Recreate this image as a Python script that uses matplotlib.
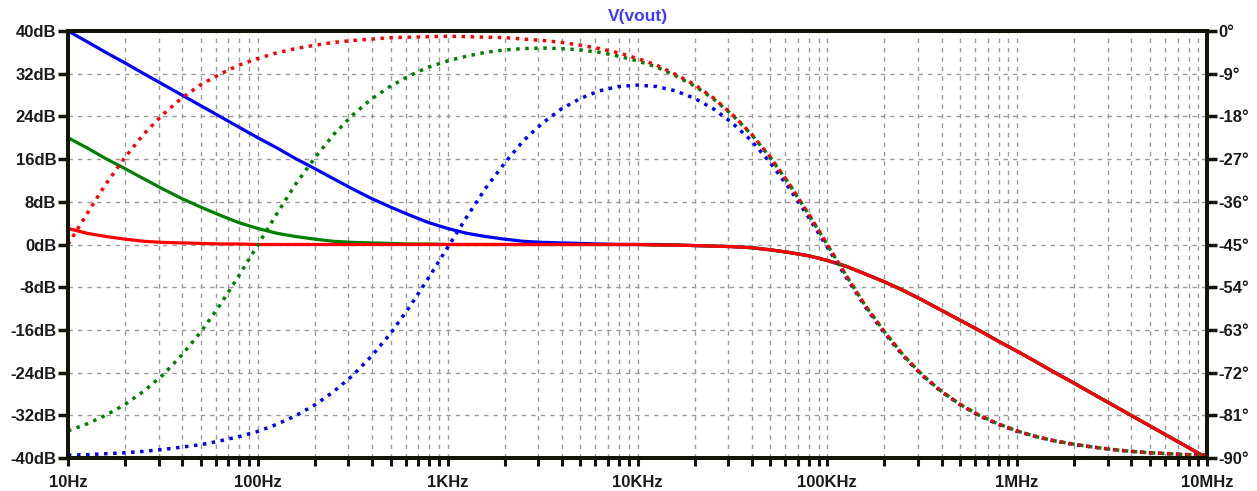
#!/usr/bin/env python
"""Bode plot of V(vout) for three corner frequencies (LTspice style)."""

import matplotlib
matplotlib.use("Agg")
import matplotlib.pyplot as plt
from matplotlib.ticker import FixedLocator, NullFormatter

# Frequency points (Hz), 10 per decade
freq = [10, 12.6, 15.8, 20, 25.1, 31.6, 39.8, 50.1, 63.1, 79.4,
        100, 126, 158, 200, 251, 316, 398, 501, 631, 794,
        1e3, 1.26e3, 1.58e3, 2e3, 2.51e3, 3.16e3, 3.98e3, 5.01e3, 6.31e3, 7.94e3,
        1e4, 1.26e4, 1.58e4, 2e4, 2.51e4, 3.16e4, 3.98e4, 5.01e4, 6.31e4, 7.94e4,
        1e5, 1.26e5, 1.58e5, 2e5, 2.51e5, 3.16e5, 3.98e5, 5.01e5, 6.31e5, 7.94e5,
        1e6, 1.26e6, 1.58e6, 2e6, 2.51e6, 3.16e6, 3.98e6, 5.01e6, 6.31e6, 7.94e6,
        1e7]

# Magnitude (dB), solid traces
mag_blue = [40.0, 38.0, 36.0, 34.0, 32.0, 30.0, 28.0, 26.0, 24.0, 22.0,
            20.0, 18.1, 16.1, 14.2, 12.3, 10.4, 8.6, 7.0, 5.5, 4.1,
            3.0, 2.1, 1.5, 1.0, 0.6, 0.4, 0.3, 0.2, 0.1, 0.0,
            0.0, 0.0, -0.1, -0.2, -0.3, -0.4, -0.6, -1.0, -1.5, -2.1,
            -3.0, -4.1, -5.5, -7.0, -8.6, -10.4, -12.3, -14.2, -16.1, -18.1,
            -20.0, -22.0, -24.0, -26.0, -28.0, -30.0, -32.0, -34.0, -36.0, -38.0,
            -40.0]
mag_green = [20.0, 18.1, 16.1, 14.2, 12.3, 10.4, 8.6, 7.0, 5.5, 4.1,
             3.0, 2.1, 1.5, 1.0, 0.6, 0.4, 0.3, 0.2, 0.1, 0.1,
             0.0, 0.0, 0.0, 0.0, 0.0, 0.0, 0.0, 0.0, 0.0, 0.0,
             0.0, -0.1, -0.1, -0.2, -0.3, -0.4, -0.6, -1.0, -1.5, -2.1,
             -3.0, -4.1, -5.5, -7.0, -8.6, -10.4, -12.3, -14.2, -16.1, -18.1,
             -20.0, -22.0, -24.0, -26.0, -28.0, -30.0, -32.0, -34.0, -36.0, -38.0,
             -40.0]
mag_red = [3.0, 2.1, 1.5, 1.0, 0.6, 0.4, 0.3, 0.2, 0.1, 0.1,
           0.0, 0.0, 0.0, 0.0, 0.0, 0.0, 0.0, 0.0, 0.0, 0.0,
           0.0, 0.0, 0.0, 0.0, 0.0, 0.0, 0.0, 0.0, 0.0, 0.0,
           0.0, -0.1, -0.1, -0.2, -0.3, -0.4, -0.6, -1.0, -1.5, -2.1,
           -3.0, -4.1, -5.5, -7.0, -8.6, -10.4, -12.3, -14.2, -16.1, -18.1,
           -20.0, -22.0, -24.0, -26.0, -28.0, -30.0, -32.0, -34.0, -36.0, -38.0,
           -40.0]

# Phase (degrees), dotted traces
ph_blue = [-89.4, -89.3, -89.1, -88.9, -88.6, -88.2, -87.7, -87.2, -86.4, -85.5,
           -84.4, -82.9, -81.1, -78.8, -76.0, -72.6, -68.5, -63.7, -58.1, -52.0,
           -45.6, -39.2, -33.2, -27.8, -23.1, -19.4, -16.4, -14.2, -12.6, -11.7,
           -11.4, -11.7, -12.6, -14.2, -16.4, -19.4, -23.1, -27.8, -33.2, -39.2,
           -45.6, -52.0, -58.1, -63.7, -68.5, -72.6, -76.0, -78.8, -81.1, -82.9,
           -84.4, -85.5, -86.4, -87.2, -87.7, -88.2, -88.6, -88.9, -89.1, -89.3,
           -89.4]
ph_green = [-84.3, -82.8, -81.0, -78.7, -75.9, -72.5, -68.3, -63.4, -57.8, -51.6,
            -45.1, -38.5, -32.3, -26.7, -21.8, -17.7, -14.3, -11.6, -9.4, -7.6,
            -6.3, -5.3, -4.5, -4.0, -3.7, -3.6, -3.7, -4.0, -4.5, -5.3,
            -6.3, -7.6, -9.4, -11.6, -14.3, -17.7, -21.8, -26.7, -32.3, -38.5,
            -45.1, -51.6, -57.8, -63.4, -68.3, -72.5, -75.9, -78.7, -81.0, -82.8,
            -84.3, -85.5, -86.4, -87.1, -87.7, -88.2, -88.6, -88.9, -89.1, -89.3,
            -89.4]
ph_red = [-45.0, -38.5, -32.3, -26.6, -21.7, -17.6, -14.1, -11.3, -9.1, -7.2,
          -5.8, -4.6, -3.7, -3.0, -2.4, -2.0, -1.7, -1.4, -1.3, -1.2,
          -1.1, -1.2, -1.3, -1.4, -1.7, -2.0, -2.4, -3.0, -3.7, -4.6,
          -5.8, -7.2, -9.1, -11.3, -14.1, -17.6, -21.7, -26.6, -32.3, -38.5,
          -45.0, -51.6, -57.8, -63.4, -68.3, -72.5, -75.9, -78.7, -81.0, -82.8,
          -84.3, -85.5, -86.4, -87.1, -87.7, -88.2, -88.6, -88.9, -89.1, -89.3,
          -89.4]

x_ticks = [10, 100, 1e3, 1e4, 1e5, 1e6, 1e7]
x_labels = ["10Hz", "100Hz", "1KHz", "10KHz", "100KHz", "1MHz", "10MHz"]
db_ticks = list(range(-40, 41, 8))
deg_ticks = list(range(-90, 1, 9))

W, H = 1257, 491
FRAME = '#141408'
TXT = dict(family='Liberation Sans', weight='bold', size=12, color='#1a1a1a')

fig = plt.figure(figsize=(W / 100, H / 100), dpi=100)
ax = fig.add_axes([68 / W, 1 - 458 / H, (1207 - 68) / W, (458 - 31) / H])
ax.set_xscale('log')
ax.set_xlim(10, 1e7)
ax.set_ylim(-40, 40)

# magnitude (solid)
for vals, col in [(mag_blue, '#0000ff'), (mag_green, '#008000'), (mag_red, '#ff0000')]:
    ax.plot(freq, vals, color=col, linewidth=2.3, solid_capstyle='butt')

# grid
grid_kw = dict(color='#9a9a9a', linestyle=(0, (3.2, 3.6)), linewidth=1.0)
ax.xaxis.set_minor_locator(FixedLocator([m * 10 ** d for d in range(1, 7) for m in range(2, 10)]))
ax.xaxis.set_minor_formatter(NullFormatter())
ax.grid(True, which='both', axis='x', **grid_kw)
ax.grid(True, which='major', axis='y', **grid_kw)

ax.set_xticks(x_ticks)
ax.set_xticklabels(x_labels, **TXT)
ax.set_yticks(db_ticks)
ax.set_yticklabels([f"{v}dB" for v in db_ticks], **TXT)
ax.tick_params(axis='x', which='both', direction='out', length=6, width=2.2, color=FRAME, pad=6, top=False)
ax.tick_params(axis='y', direction='out', length=7.5, width=2.5, color=FRAME, pad=1)

# phase (dotted) on right axis
ax2 = ax.twinx()
ax2.set_ylim(-90, 0)
for vals, col in [(ph_blue, '#0000ff'), (ph_green, '#008000'), (ph_red, '#ff0000')]:
    ax2.plot(freq, vals, color=col, linewidth=2.5, linestyle=(0, (1, 1.6)))
ax2.set_yticks(deg_ticks)
ax2.set_yticklabels([f"{v}°" for v in deg_ticks], **TXT)
ax2.tick_params(axis='y', direction='out', length=7.5, width=2.5, color=FRAME, pad=1)

for a in (ax, ax2):
    for sp in a.spines.values():
        sp.set_color(FRAME)
        sp.set_linewidth(2.8)

fig.text((68 + 1207) / 2 / W, 1 - 16 / H, "V(vout)", ha='center', va='center',
         family='Liberation Sans', weight='bold', size=12.5, color='#3c3cff')

fig.savefig("out.png", dpi=100)
